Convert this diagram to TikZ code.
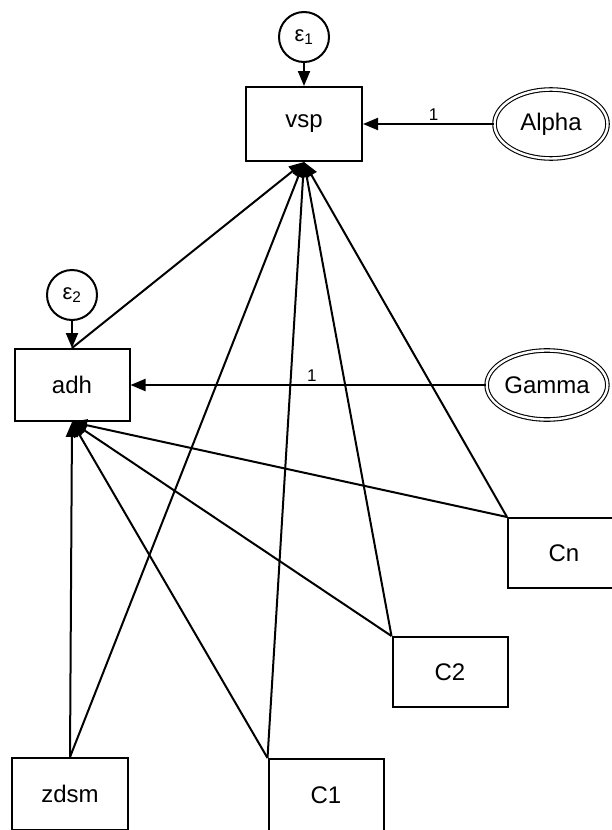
\documentclass[tikz,border=0pt]{standalone}
\usepackage{fontspec}
\setmainfont{Liberation Sans}
\usetikzlibrary{arrows.meta,shapes.geometric}
\begin{document}
\begin{tikzpicture}[x=1pt,y=-1pt,
  lw/.style={line width=2pt},
  box/.style={draw,lw,rectangle,minimum width=115pt,minimum height=72pt,inner sep=0pt,font=\fontsize{24}{28}\selectfont},
  errc/.style={draw,lw,circle,minimum size=50pt,inner sep=0pt,font=\fontsize{22}{26}\selectfont},
  lat/.style={draw,ellipse,line width=1.1pt,double,double distance=2.4pt,minimum width=113pt,minimum height=69pt,inner sep=0pt,font=\fontsize{24}{28}\selectfont},
  arr/.style={lw,-{Triangle[length=15pt,width=12pt]}},
  lbl/.style={font=\fontsize{17}{20}\selectfont,above,inner sep=3pt}]
\useasboundingbox (0,0) rectangle (611,830);
\node[errc] (e1) at (304,37) {ε\textsubscript{1}};
\node[box,minimum width=116pt,minimum height=74pt] (vsp) at (304,124) {vsp};
\node[lat] (alpha) at (551,124) {Alpha};
\node[errc] (e2) at (72,295) {ε\textsubscript{2}};
\node[box] (adh) at (72,385) {adh};
\node[lat] (gamma) at (547,385) {Gamma};
\node[box,minimum width=112pt,minimum height=70pt] (cn) at (564,553) {Cn};
\node[box,minimum height=70pt] (c2) at (450,672) {C2};
\node[box,minimum width=116pt] (zdsm) at (70,794) {zdsm};
\node[box] (c1) at (326,795) {C1};
\draw[arr] (e1) -- (vsp);
\draw[arr] (e2) -- (adh);
\draw[arr] (alpha) -- node[lbl,pos=0.46]{1} (vsp);
\draw[arr] (gamma) -- node[lbl,pos=0.49]{1} (adh.east);
\draw[arr] (adh.north) -- (vsp.south);
\draw[arr] (zdsm.north) -- (vsp.south);
\draw[arr] (c1.north west) -- (vsp.south);
\draw[arr] (c2.north west) -- (vsp.south);
\draw[arr] (cn.north west) -- (vsp.south);
\draw[arr] (zdsm.north) -- (adh.south);
\draw[arr] (c1.north west) -- (adh.south);
\draw[arr] (c2.north west) -- (adh.south);
\draw[arr] (cn.north west) -- (adh.south);
\end{tikzpicture}
\end{document}
